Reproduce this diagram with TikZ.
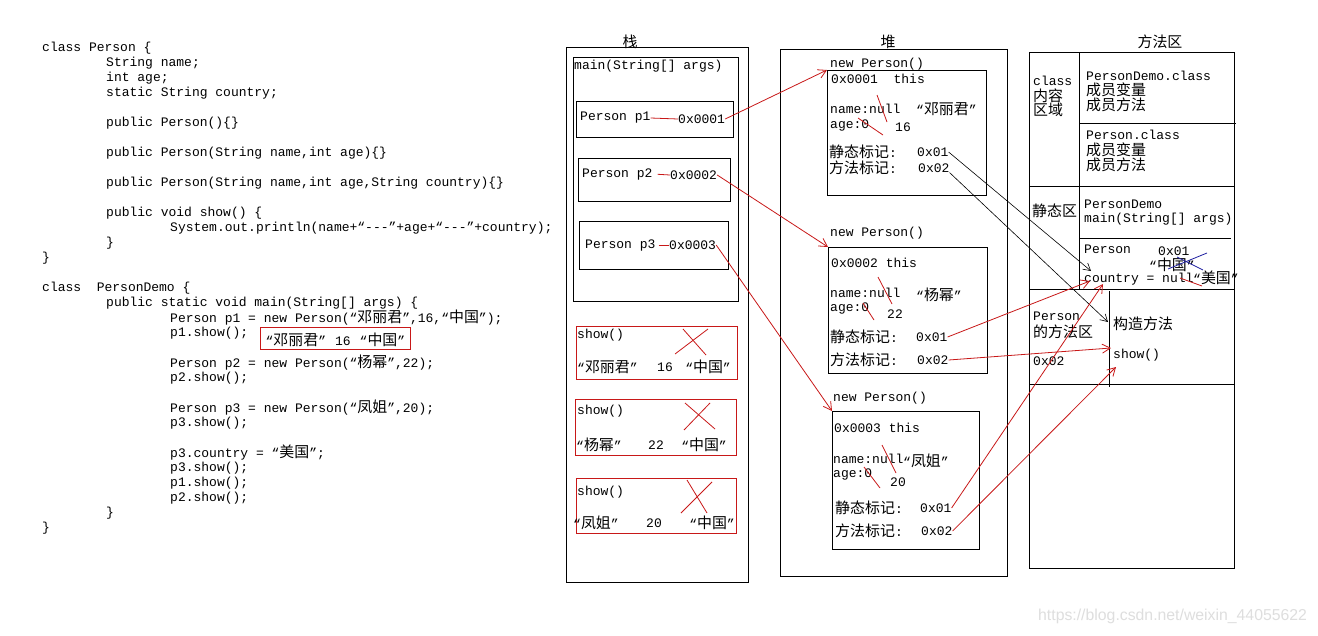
\documentclass[tikz,border=0pt]{standalone}
\usepackage{fontspec}
\setmainfont{Liberation Mono}
\newfontfamily\cjk[Scale=1.15]{Noto Sans CJK SC}
\newfontfamily\wmfont{Liberation Sans}
\usetikzlibrary{arrows.meta}
\newcommand\zh[1]{{\cjk #1}}
\definecolor{rc}{RGB}{200,24,24}
\definecolor{bc}{RGB}{30,30,160}
\begin{document}
\begin{tikzpicture}[x=1pt,y=-1pt,
  every node/.style={font=\fontsize{13}{15}\selectfont, inner sep=0pt},
  txt/.style={anchor=west, yshift=-1pt},
  ttl/.style={anchor=center, yshift=-1pt},
  frame/.style={draw=black, line width=0.9pt, anchor=north west, inner sep=0pt},
  rframe/.style={draw=rc, line width=0.9pt, anchor=north west, inner sep=0pt},
  sep/.style={draw=black, line width=0.9pt},
  rline/.style={draw=rc, line width=0.8pt},
  bline/.style={draw=bc, line width=0.8pt},
  karrow/.style={draw=black, line width=0.6pt, -{Straight Barb[length=7pt,width=8pt]}},
  rarrow/.style={draw=rc, line width=0.8pt, -{Straight Barb[length=8pt,width=9pt]}}]
\useasboundingbox (0,0) rectangle (1318,635);
\fill[white] (0,0) rectangle (1318,635);

% ---------------- code ----------------
\node[txt] (c1) at (42,47) {class Person \{};
\node[txt] (c2) at (106,62) {String name;};
\node[txt] (c3) at (106,77) {int age;};
\node[txt] (c4) at (106,92) {static String country;};
\node[txt] (c5) at (106,122) {public Person()\{\}};
\node[txt] (c6) at (106,152) {public Person(String name,int age)\{\}};
\node[txt] (c7) at (106,182) {public Person(String name,int age,String country)\{\}};
\node[txt] (c8) at (106,212) {public void show() \{};
\node[txt] (c9) at (170,227) {System.out.println(name+“-{}-{}-”+age+“-{}-{}-”+country);};
\node[txt] (c10) at (106,242) {\}};
\node[txt] (c11) at (42,257) {\}};
\node[txt] (d1) at (42,287) {class~~PersonDemo \{};
\node[txt] (d2) at (106,302) {public static void main(String[] args) \{};
\node[txt] (d3) at (170,317) {Person p1 = new Person(“\zh{邓丽君}”,16,“\zh{中国}”);};
\node[txt] (d4) at (170,332) {p1.show();};
\node[rframe, minimum width=150pt, minimum height=22pt] (rb) at (260,327) {};
\node[ttl] (rbt) at (rb.center) {“\zh{邓丽君}”\hspace{9pt}16\hspace{9pt}“\zh{中国}”};
\node[txt] (d5) at (170,362) {Person p2 = new Person(“\zh{杨幂}”,22);};
\node[txt] (d6) at (170,377) {p2.show();};
\node[txt] (d7) at (170,407) {Person p3 = new Person(“\zh{凤姐}”,20);};
\node[txt] (d8) at (170,422) {p3.show();};
\node[txt] (d9) at (170,452) {p3.country = “\zh{美国}”;};
\node[txt] (d10) at (170,467) {p3.show();};
\node[txt] (d11) at (170,482) {p1.show();};
\node[txt] (d12) at (170,497) {p2.show();};
\node[txt] (d13) at (106,512) {\}};
\node[txt] (d14) at (42,527) {\}};

% ---------------- stack ----------------
\node[ttl] (stt) at (630,41) {\zh{栈}};
\node[frame, minimum width=182pt, minimum height=535pt] (stk) at (566,47) {};
\node[frame, minimum width=165pt, minimum height=244pt] (mainf) at (573,57) {};
\node[txt] (maint) at (574,65) {main(String[] args)};
\node[frame, minimum width=157pt, minimum height=36pt] (p1f) at (576,101) {};
\node[txt] (p1t) at (580,117) {Person p1};
\node[txt] (a1) at (678,118) {0x0001};
\draw[rline] (p1t.east) -- (a1.west);
\node[frame, minimum width=152pt, minimum height=43pt] (p2f) at (578,158) {};
\node[txt] (p2t) at (582,173) {Person p2};
\node[txt] (a2) at (670,174) {0x0002};
\draw[rline, shorten <=5pt] (p2t.east) -- (a2.west);
\node[frame, minimum width=149pt, minimum height=48pt] (p3f) at (579,221) {};
\node[txt] (p3t) at (585,244) {Person p3};
\node[txt] (a3) at (669,244) {0x0003};
\draw[rline, shorten <=3pt] (p3t.east) -- (a3.west);

\node[rframe, minimum width=161pt, minimum height=53pt] (s1) at (576,326) {};
\node[txt] (s1a) at (577,334) {show()};
\node[txt] (s1b) at (577,366) {“\zh{邓丽君}”};
\node[ttl] (s1c) at (665,366) {16};
\node[ttl] (s1d) at (708,366) {“\zh{中国}”};
\draw[rline] (675,354) -- (708,329);
\draw[rline] (683,329) -- (706,355);

\node[rframe, minimum width=161pt, minimum height=56pt] (s2) at (575,399) {};
\node[txt] (s2a) at (577,410) {show()};
\node[txt] (s2b) at (576,444) {“\zh{杨幂}”};
\node[ttl] (s2c) at (656,444) {22};
\node[ttl] (s2d) at (704,444) {“\zh{中国}”};
\draw[rline] (685,403) -- (715,429);
\draw[rline] (710,403) -- (684,430);

\node[rframe, minimum width=160pt, minimum height=55pt] (s3) at (576,478) {};
\node[txt] (s3a) at (577,491) {show()};
\node[txt] (s3b) at (573,522) {“\zh{凤姐}”};
\node[ttl] (s3c) at (654,522) {20};
\node[ttl] (s3d) at (712,522) {“\zh{中国}”};
\draw[rline] (687,480) -- (707,513);
\draw[rline] (712,482) -- (681,513);

% ---------------- heap ----------------
\node[ttl] (hpt) at (888,41) {\zh{堆}};
\node[frame, minimum width=227pt, minimum height=527pt] (heap) at (780,49) {};

\node[txt] (n1) at (830,63) {new Person()};
\node[frame, minimum width=159pt, minimum height=125pt] (h1) at (827,70) {};
\node[txt] (h1a) at (831,78) {0x0001~~this};
\node[txt] (h1b) at (830,108) {name:null};
\node[txt] (h1c) at (916,108) {“\zh{邓丽君}”};
\node[txt] (h1d) at (830,124) {age:0};
\node[txt] (h1e) at (895,126) {16};
\node[txt] (h1f) at (829,151) {\zh{静态标记}:};
\node[txt] (h1s) at (917,151) {0x01};
\node[txt] (h1g) at (829,167) {\zh{方法标记}:};
\node[txt] (h1m) at (918,167) {0x02};
\draw[rline] (877,95) -- (887,122);
\draw[rline] (858,118) -- (883,135);

\node[txt] (n2) at (830,232) {new Person()};
\node[frame, minimum width=159pt, minimum height=126pt] (h2) at (828,247) {};
\node[txt] (h2a) at (831,262) {0x0002 this};
\node[txt] (h2b) at (830,292) {name:null};
\node[txt] (h2c) at (916,294) {“\zh{杨幂}”};
\node[txt] (h2d) at (830,307) {age:0};
\node[txt] (h2e) at (887,313) {22};
\node[txt] (h2f) at (830,336) {\zh{静态标记}:};
\node[txt] (h2s) at (916,336) {0x01};
\node[txt] (h2g) at (830,359) {\zh{方法标记}:};
\node[txt] (h2m) at (917,359) {0x02};
\draw[rline] (878,277) -- (892,304);
\draw[rline] (863,303) -- (874,320);

\node[txt] (n3) at (833,397) {new Person()};
\node[frame, minimum width=147pt, minimum height=138pt] (h3) at (832,411) {};
\node[txt] (h3a) at (834,427) {0x0003 this};
\node[txt] (h3b) at (833,458) {name:null};
\node[txt] (h3c) at (903,460) {“\zh{凤姐}”};
\node[txt] (h3d) at (833,473) {age:0};
\node[txt] (h3e) at (890,481) {20};
\node[txt] (h3f) at (835,507) {\zh{静态标记}:};
\node[txt] (h3s) at (920,507) {0x01};
\node[txt] (h3g) at (835,530) {\zh{方法标记}:};
\node[txt] (h3m) at (921,530) {0x02};
\draw[rline] (882,445) -- (896,473);
\draw[rline] (864,467) -- (880,488);

% ---------------- method area ----------------
\node[ttl] (mat) at (1160,41) {\zh{方法区}};
\node[frame, minimum width=205pt, minimum height=516pt] (ma) at (1029,52) {};
\draw[sep] (1079,52) -- (1079,289);
\draw[sep] (1079,123) -- (1236,123);
\draw[sep] (1029,186) -- (1234,186);
\draw[sep] (1079,238) -- (1231,238);
\draw[sep] (1029,289) -- (1234,289);
\draw[sep] (1109,291) -- (1109,387);
\draw[sep] (1029,384) -- (1234,384);

\node[txt] (m1) at (1033,80) {class};
\node[txt] (m2) at (1033,95) {\zh{内容}};
\node[txt] (m3) at (1033,109) {\zh{区域}};
\node[txt] (m4) at (1086,75) {PersonDemo.class};
\node[txt] (m5) at (1086,89) {\zh{成员变量}};
\node[txt] (m6) at (1086,104) {\zh{成员方法}};
\node[txt] (m7) at (1086,134) {Person.class};
\node[txt] (m8) at (1086,149) {\zh{成员变量}};
\node[txt] (m9) at (1086,164) {\zh{成员方法}};
\node[txt] (m10) at (1032,210) {\zh{静态区}};
\node[txt] (m11) at (1084,203) {PersonDemo};
\node[txt] (m12) at (1084,218) {main(String[] args)};
\node[txt] (m13) at (1084,248) {Person};
\node[txt] (m14) at (1158,250) {0x01};
\node[txt] (m15) at (1149,264) {“\zh{中国}”};
\node[txt] (m16) at (1084,278) {country = null};
\node[txt] (m17) at (1193,277) {“\zh{美国}”};
\draw[bline] (1168,269) -- (1207,253);
\draw[bline] (1177,257) -- (1203,270);
\draw[rline] (1180,278) -- (1202,286);
\node[txt] (m18) at (1033,315) {Person};
\node[txt] (m19) at (1033,331) {\zh{的方法区}};
\node[txt] (m20) at (1033,360) {0x02};
\node[txt] (m21) at (1113,323) {\zh{构造方法}};
\node[txt] (m22) at (1113,354) {show()};

% ---------------- connectors ----------------
\coordinate (cty0) at (1091,271);
\coordinate (cty1) at (1090,281);
\coordinate (cty2) at (1103,284);
\coordinate (ctor) at (1108,322);
\coordinate (shw1) at (1111,348);
\coordinate (shw2) at (1116,367);

\draw[rarrow] (a1.east) -- (h1.north west);
\draw[rarrow] (a2.east) -- (h2.north west);
\draw[rarrow] (a3.east) -- (h3.north west);
\draw[karrow] (h1s.east) -- (cty0);
\draw[karrow] (h1m.south east) -- (ctor);
\draw[rarrow] (h2s.east) -- (cty1);
\draw[rarrow] (h3s.east) -- (cty2);
\draw[rarrow] (h2m.east) -- (shw1);
\draw[rarrow] (h3m.east) -- (shw2);

% watermark
\node[txt, font=\wmfont\fontsize{15.8}{18}\selectfont, text=black!13] (wm) at (1038,615) {https://blog.csdn.net/weixin\_44055622};
\end{tikzpicture}
\end{document}
